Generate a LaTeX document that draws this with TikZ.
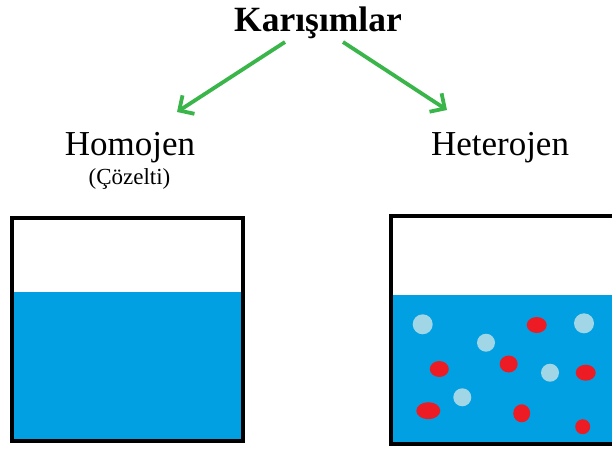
\documentclass[tikz,border=0pt]{standalone}
\usepackage{fontspec}
\setmainfont{Liberation Serif}
\usetikzlibrary{arrows.meta}
\definecolor{water}{RGB}{0,160,227}
\definecolor{dropred}{RGB}{237,28,36}
\definecolor{droplight}{RGB}{160,214,230}
\definecolor{arrowgreen}{RGB}{57,181,74}
\tikzset{
  lbl/.style={inner sep=0pt, anchor=base, text=black},
  conn/.style={draw=arrowgreen, line width=3.8pt, -{Straight Barb[length=11pt,width=22pt,line width=3.8pt]}},
  vessel/.style={draw=black, line width=4pt},
  lightdot/.style={fill=droplight},
  reddot/.style={fill=dropred}
}
\begin{document}
\begin{tikzpicture}[x=1pt,y=-1pt]
\useasboundingbox (0,0) rectangle (612,450);
\clip (0,0) rectangle (612,450);
% labels
\node[lbl, font=\fontsize{35.5}{40}\selectfont\bfseries] (title) at (318,31) {Karışımlar};
\node[lbl, font=\fontsize{35}{40}\selectfont] (homo) at (130,155) {Homojen};
\node[lbl, font=\fontsize{23}{28}\selectfont] (coz) at (129.5,184) {(Çözelti)};
\node[lbl, font=\fontsize{35}{40}\selectfont] (hetero) at (500,155) {Heterojen};
% arrow endpoints
\coordinate (ls) at (285,42);
\coordinate (le) at (177,112);
\coordinate (rs) at (343,42);
\coordinate (re) at (447,110);
\draw[conn] (ls) -- (le);
\draw[conn] (rs) -- (re);
% left vessel
\fill[water] (12,292) rectangle (243,441);
\draw[vessel] (12,218) rectangle (243,441);
% right vessel
\fill[water] (391,295) rectangle (630,444);
% particles
\fill[lightdot] (422.7,324.3) circle (10);
\fill[lightdot] (486,342.7) circle (9);
\fill[lightdot] (584,323.3) circle (10);
\fill[lightdot] (550,372.7) circle (9);
\fill[lightdot] (462.3,397.3) circle (9);
\fill[reddot] (536.7,325) ellipse (10 and 8);
\fill[reddot] (439.3,369) ellipse (9.5 and 8);
\fill[reddot] (508.7,364) ellipse (9 and 8.5);
\fill[reddot] (585.7,372.7) ellipse (10 and 8);
\fill[reddot] (428.3,410.7) ellipse (12 and 8.5);
\fill[reddot] (521.7,413.3) ellipse (8.5 and 9);
\fill[reddot] (582.7,426.7) circle (7.5);
\draw[vessel] (391,216) rectangle (630,444);
\end{tikzpicture}
\end{document}
